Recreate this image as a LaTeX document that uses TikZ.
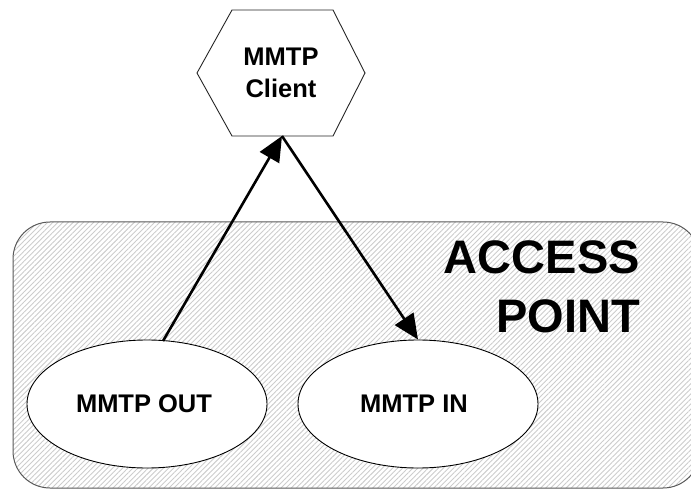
\documentclass[tikz,border=0pt]{standalone}
\usepackage{fontspec}
\setmainfont{Liberation Sans}
\usetikzlibrary{arrows.meta,patterns.meta,shapes.geometric}
\begin{document}
\begin{tikzpicture}[x=1pt,y=-1pt,
  lbl/.style={font=\fontsize{25.5}{32}\selectfont\bfseries, align=center, inner sep=0pt},
  big/.style={font=\fontsize{47}{58}\selectfont\bfseries, inner sep=0pt},
  oval/.style={ellipse, draw=black, line width=0.9pt, fill=white, minimum width=240pt, minimum height=128pt, inner sep=0pt},
  conn/.style={line width=2.6pt, -{Triangle[length=25pt,width=22pt]}}
]
\useasboundingbox (0,0) rectangle (691,489);
% access point area
\path[pattern={Lines[angle=45,distance=3.6pt,line width=0.9pt]}, pattern color=black!20]
  [rounded corners=37pt] (13,222) rectangle (700,488);
\draw[draw=black!65, line width=1pt, rounded corners=37pt] (13,222) rectangle (700,488);
\node[big, anchor=base east] (ap1) at (640,273) {ACCESS};
\node[big, anchor=base east] (ap2) at (640,332) {POINT};
% client hexagon
\draw[line width=0.9pt, draw=black!85, fill=white]
  (232,10) -- (333,10) -- (365,73) -- (333,136) -- (232,136) -- (197,73) -- cycle;
\node[lbl] (client) at (281,73) {MMTP\\Client};
\coordinate (cb) at (282,136);
% ellipses
\node[oval] (out) at (147,404) {};
\node[lbl] (outt) at (144,404) {MMTP OUT};
\node[oval] (in) at (418,404) {};
\node[lbl] (int) at (414,404) {MMTP IN};
\coordinate (os) at (163,341);
% connectors
\draw[conn] (os) -- (cb);
\draw[conn] (cb) -- (in.north);
\end{tikzpicture}
\end{document}
